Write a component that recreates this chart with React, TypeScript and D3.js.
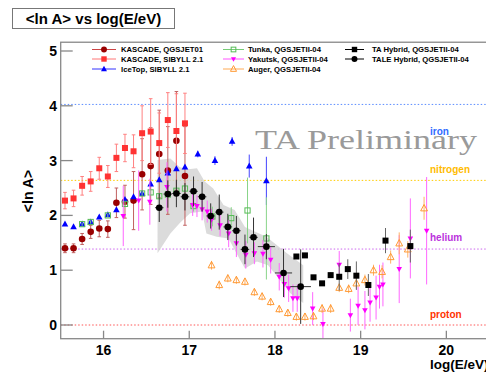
import React from "react";
import * as d3 from "d3";

const W = 486, H = 372;

// KASCADE QGSJET01
const kqX = [15.55,15.65,15.75,15.85,15.95,16.05,16.15,16.25,16.35,16.45,16.55,16.65,16.75,16.85,16.95];
const kqY = [1.40,1.40,1.57,1.70,1.76,1.75,2.23,2.25,2.27,2.75,2.90,3.12,2.82,3.36,2.72];
const kqE = [0.08,0.08,0.1,0.12,0.15,0.15,0.27,0.3,0.53,0.65,0.7,0.8,0.8,0.9,0.9];
// KASCADE SIBYLL 2.1
const ksX = kqX;
const ksY = [2.27,2.31,2.54,2.62,2.86,2.71,3.05,3.23,3.17,3.50,3.53,3.32,3.74,3.54,3.68];
const ksE = [0.15,0.15,0.17,0.18,0.2,0.2,0.25,0.25,0.3,0.5,0.6,0.55,0.5,0.68,0.55];
// IceTop SIBYLL 2.1
const itX = [15.55,15.65,15.75,15.85,15.95,16.05,16.15,16.25,16.35,16.45,16.55,16.65,16.75,16.85,16.95,17.1,17.3,17.5,17.7,17.9];
const itY = [1.84,1.79,1.84,1.88,1.97,2.01,2.10,2.29,2.34,2.40,2.57,2.65,2.77,2.85,2.88,3.12,3.00,3.35,2.90,2.63];
const itE = [0.03,0.03,0.03,0.03,0.03,0.03,0.03,0.03,0.03,0.03,0.04,0.04,0.04,0.04,0.04,0.06,0.08,0.08,0.21,0.44];
// Tunka QGSJETII-04
const tkX = [15.75,15.85,16.05,16.25,16.45,16.55,16.65,16.75,16.85,16.95,17.05,17.27,17.49,17.68,17.90];
const tkY = [1.84,1.88,2.0,2.21,2.4,2.42,2.35,2.38,2.45,2.49,2.17,1.98,1.95,2.09,1.58];
const tkE = [0.03,0.03,0.03,0.04,0.04,0.05,0.05,0.05,0.06,0.06,0.1,0.18,0.2,0.6,0.75];
// Yakutsk QGSJETII-04
const ykX = [16.23,16.41,16.54,16.74,17.04,17.09,17.15,17.21,17.26,17.36,17.46,17.55,17.66,17.76,17.86,17.95,18.05,18.11,18.16,18.21,18.26,18.44,18.56,18.75,18.88,18.97,19.05,19.11,19.18,19.22,19.26,19.45,19.58,19.77];
const ykY = [1.99,2.27,2.25,2.52,2.19,2.17,2.11,2.07,1.92,1.82,1.67,1.49,1.28,1.31,1.30,1.19,0.88,0.75,0.67,0.49,0.49,0.30,0.02,1.10,0.18,0.35,0.27,0.41,0.50,0.70,0.74,1.02,1.58,1.72];
const ykE = [0.55,0.55,0.42,0.45,0.2,0.2,0.2,0.2,0.2,0.2,0.25,0.25,0.25,0.2,0.25,0.25,0.25,0.25,0.25,0.25,0.25,0.3,0.28,0.25,0.3,0.35,0.35,0.35,0.4,0.4,0.4,0.62,0.73,0.98];
// Auger QGSJETII-04
const agX = [17.26,17.35,17.45,17.55,17.65,17.76,17.85,17.95,18.05,18.15,18.25,18.35,18.45,18.55,18.65,18.75,18.86,18.95,19.05,19.15,19.25,19.35,19.45,19.55,19.74];
const agY = [1.09,0.73,0.85,0.82,0.79,0.60,0.52,0.42,0.29,0.22,0.15,0.15,0.16,0.30,0.30,0.68,0.66,0.76,0.82,1.00,0.97,1.24,1.49,1.38,2.13];
const agE = [0.08,0.08,0.07,0.07,0.07,0.07,0.07,0.07,0.07,0.07,0.07,0.07,0.07,0.08,0.08,0.08,0.08,0.1,0.1,0.1,0.12,0.12,0.2,0.15,0.21];
// TA Hybrid QGSJETII-04
const taX = [18.25,18.35,18.45,18.55,18.65,18.75,18.85,18.95,19.09,19.29,19.58];
const taY = [1.25,1.27,0.87,0.76,0.91,0.88,1.02,0.90,0.73,1.54,1.44];
const taE = [0.04,0.04,0.04,0.04,0.05,0.25,0.18,0.26,0.2,0.23,0.3];
// TALE Hybrid QGSJETII-04
const tlX = [16.65,16.75,16.85,16.95,17.05,17.15,17.25,17.35,17.45,17.55,17.65,17.75,17.90,18.10,18.30];
const tlY = [2.14,2.39,2.40,2.34,2.44,2.34,1.99,2.06,1.79,1.72,1.38,1.60,1.43,0.95,0.70];
const tlE = [0.26,0.25,0.25,0.25,0.27,0.27,0.23,0.32,0.24,0.27,0.27,0.36,0.23,0.44,0.68];
const tlXE = [0.05,0.05,0.05,0.05,0.05,0.05,0.05,0.05,0.05,0.05,0.05,0.05,0.1,0.1,0.12];
// TALE systematic band
const bandUpX = [16.63,16.78,16.89,16.99,17.09,17.18,17.28,17.40,17.53,17.65,17.77,17.90,18.02,18.14,18.33];
const bandUpY = [3.01,3.04,2.88,2.84,2.86,2.62,2.49,2.19,2.10,1.79,1.70,1.61,1.46,1.31,1.09];
const bandLoX = [16.63,16.78,16.89,17.01,17.15,17.20,17.32,17.46,17.53,17.65,17.79,17.92,18.06,18.18,18.33];
const bandLoY = [1.31,1.67,1.86,2.04,2.07,1.67,1.61,1.58,1.37,1.03,1.16,1.09,0.82,0.58,0.40];

// reference lines
const refNames = ["iron","nitrogen","helium","proton"];
const refVals = [4.025, 2.639, 1.386, 0];
const refLine = ["#5b8cff","#ffcc00","#cc66ee","#ff5555"];
const refText = ["#2f6bff","#ffbb00","#bb33dd","#ff3300"];
const refLabelY = [3.47, 2.78, 1.53, 0.12];

const xTicks = [16,17,18,19,20];
const yTicks = [0,1,2,3,4,5];

const x = d3.scaleLinear().domain([15.5, 20.5]).range([60.7, 489.2]);
const y = d3.scaleLinear().domain([0, 5]).range([325, 51]);
const PL = x(15.5), PR = x(20.5), PT = y(5.16), PB = y(-0.25);

const FONT = "'Liberation Sans', Arial, Helvetica, sans-serif";

type Shape = "circle" | "square" | "tri" | "itri" | "osquare" | "otri";

function Marker({ cx, cy, shape, color, s = 1 }: { cx: number; cy: number; shape: Shape; color: string; s?: number }) {
  if (shape === "circle") return <circle cx={cx} cy={cy} r={3.3 * s} fill={color} />;
  if (shape === "square") return <rect x={cx - 3 * s} y={cy - 3 * s} width={6 * s} height={6 * s} fill={color} />;
  if (shape === "osquare") return <rect x={cx - 2.6 * s} y={cy - 2.6 * s} width={5.2 * s} height={5.2 * s} fill="white" fillOpacity={0} stroke={color} strokeWidth={1} />;
  if (shape === "tri") return <path d={`M${cx},${cy - 3.6 * s}L${cx + 3.3 * s},${cy + 2.4 * s}L${cx - 3.3 * s},${cy + 2.4 * s}Z`} fill={color} />;
  if (shape === "itri") return <path d={`M${cx},${cy + 3 * s}L${cx + 2.8 * s},${cy - 2 * s}L${cx - 2.8 * s},${cy - 2 * s}Z`} fill={color} />;
  return <path d={`M${cx},${cy - 3.8 * s}L${cx + 3.4 * s},${cy + 2.6 * s}L${cx - 3.4 * s},${cy + 2.6 * s}Z`} fill="none" stroke={color} strokeWidth={1} />;
}

function Series({ xs, ys, es, shape, color, ecolor, xes, cap = 0, ew = 1 }: any) {
  return (
    <g>
      {xs.map((v: number, i: number) => {
        const cx = x(v), cy = y(ys[i]);
        const y1 = y(ys[i] + es[i]), y2 = y(ys[i] - es[i]);
        return (
          <g key={i}>
            <line x1={cx} x2={cx} y1={y1} y2={y2} stroke={ecolor} strokeWidth={ew} />
            {cap > 0 && <line x1={cx - cap} x2={cx + cap} y1={y1} y2={y1} stroke={ecolor} strokeWidth={ew} />}
            {cap > 0 && <line x1={cx - cap} x2={cx + cap} y1={y2} y2={y2} stroke={ecolor} strokeWidth={ew} />}
            {xes && <line x1={x(v - xes[i])} x2={x(v + xes[i])} y1={cy} y2={cy} stroke={ecolor} strokeWidth={ew} />}
            <Marker cx={cx} cy={cy} shape={shape} color={color} />
          </g>
        );
      })}
    </g>
  );
}

const legend = [
  { label: "KASCADE, QGSJET01", shape: "circle", color: "#990000", lc: "#cc4444", col: 0, row: 0 },
  { label: "KASCADE, SIBYLL 2.1", shape: "square", color: "#ff3333", lc: "#ff7777", col: 0, row: 1 },
  { label: "IceTop,  SIBYLL 2.1", shape: "tri", color: "#0000ff", lc: "#3333ff", col: 0, row: 2 },
  { label: "Tunka, QGSJETII-04", shape: "osquare", color: "#55bb55", lc: "#77cc77", col: 1, row: 0 },
  { label: "Yakutsk, QGSJETII-04", shape: "itri", color: "#ff00ff", lc: "#ff55ff", col: 1, row: 1 },
  { label: "Auger, QGSJETII-04", shape: "otri", color: "#ff9933", lc: "#ffaa55", col: 1, row: 2 },
  { label: "TA Hybrid, QGSJETII-04", shape: "square", color: "#000000", lc: "#000000", col: 2, row: 0 },
  { label: "TALE Hybrid, QGSJETII-04", shape: "circle", color: "#000000", lc: "#000000", col: 2, row: 1 },
];
const legCols = [{ l1: 92, l2: 116, t: 121 }, { l1: 223, l2: 244, t: 248 }, { l1: 345, l2: 364, t: 372 }];
const legRows = [49.5, 59, 69];

export default function App() {
  const line = d3.line<[number, number]>().x((d) => x(d[0])).y((d) => y(d[1]));
  const bandPts: [number, number][] = [
    ...bandUpX.map((v, i) => [v, bandUpY[i]] as [number, number]),
    ...bandLoX.map((v, i) => [v, bandLoY[i]] as [number, number]).reverse(),
  ];
  const bandPath = line(bandPts) + "Z";
  return (
    <svg width={W} height={H} style={{ position: "absolute", left: 0, top: 0, background: "white" }} fontFamily={FONT}>
      <defs>
        <clipPath id="plot"><rect x={PL} y={PT} width={PR - PL} height={PB - PT} /></clipPath>
      </defs>
      <rect x={0} y={0} width={W} height={H} fill="white" />
      {/* title */}
      <rect x={12.5} y={8.5} width={162} height={20} fill="white" stroke="#777" strokeWidth={1} />
      <text x={93.5} y={24} textAnchor="middle" fontSize={15} fontWeight="bold">&lt;ln A&gt; vs log(E/eV)</text>

      <g clipPath="url(#plot)">
        {refVals.map((v, i) => (
          <line key={i} x1={PL} x2={PR} y1={y(v)} y2={y(v)} stroke={refLine[i]} strokeWidth={1} strokeDasharray="1.5,2" />
        ))}
        <path d={bandPath} fill="#d2d2d2" fillOpacity={0.8} />
        <Series xs={kqX} ys={kqY} es={kqE} shape="circle" color="#990000" ecolor="#c06060" cap={1.8} />
        <Series xs={ksX} ys={ksY} es={ksE} shape="square" color="#ff3333" ecolor="#ff8080" cap={1.8} />
        <Series xs={itX} ys={itY} es={itE} shape="tri" color="#0000ff" ecolor="#4444ff" />
        <Series xs={tkX} ys={tkY} es={tkE} shape="osquare" color="#55bb55" ecolor="#88d488" />
        <Series xs={ykX} ys={ykY} es={ykE} shape="itri" color="#ff00ff" ecolor="#ff66ff" />
        <Series xs={agX} ys={agY} es={agE} shape="otri" color="#ff9933" ecolor="#ffb066" />
        <Series xs={taX} ys={taY} es={taE} shape="square" color="#000000" ecolor="#666666" />
        <Series xs={tlX} ys={tlY} es={tlE} xes={tlXE} shape="circle" color="#000000" ecolor="#333333" />
      </g>

      <text x={255} y={149} fontFamily="'Liberation Serif', 'Times New Roman', serif" fontSize={28} fill="#9a9a9a" textLength={222} lengthAdjust="spacingAndGlyphs">TA Preliminary</text>

      {refNames.map((n, i) => (
        <text key={n} x={430} y={y(refLabelY[i])} fontSize={10} fontWeight="bold" fill={refText[i]}>{n}</text>
      ))}

      {/* legend */}
      {legend.map((d, i) => {
        const c = legCols[d.col], yy = legRows[d.row];
        return (
          <g key={i}>
            <line x1={c.l1} x2={c.l2} y1={yy} y2={yy} stroke={d.lc} strokeWidth={1} />
            <Marker cx={(c.l1 + c.l2) / 2} cy={yy} shape={d.shape as Shape} color={d.color} s={0.9} />
            <text x={c.t} y={yy + 2.8} fontSize={7.7} fontWeight="bold">{d.label}</text>
          </g>
        );
      })}

      {/* frame & axes */}
      <rect x={PL} y={PT} width={PR - PL} height={PB - PT} fill="none" stroke="#888" strokeWidth={1.3} />
      {yTicks.map((t) => (
        <g key={t}>
          <line x1={PL} x2={PL + 12} y1={y(t)} y2={y(t)} stroke="#888" strokeWidth={1.3} />
          <text x={57} y={y(t) + 5} textAnchor="end" fontSize={14} fontWeight="bold">{t}</text>
        </g>
      ))}
      {xTicks.map((t) => (
        <g key={t}>
          <line x1={x(t)} x2={x(t)} y1={PB} y2={PB - 8} stroke="#888" strokeWidth={1.3} />
          <text x={x(t)} y={355} textAnchor="middle" fontSize={14} fontWeight="bold">{t}</text>
        </g>
      ))}
      <text x={430} y={369} fontSize={13.5} fontWeight="bold">log(E/eV)</text>
      <text transform={`translate(33,191) rotate(-90)`} textAnchor="middle" fontSize={14} fontWeight="bold">&lt;ln A&gt;</text>
    </svg>
  );
}
